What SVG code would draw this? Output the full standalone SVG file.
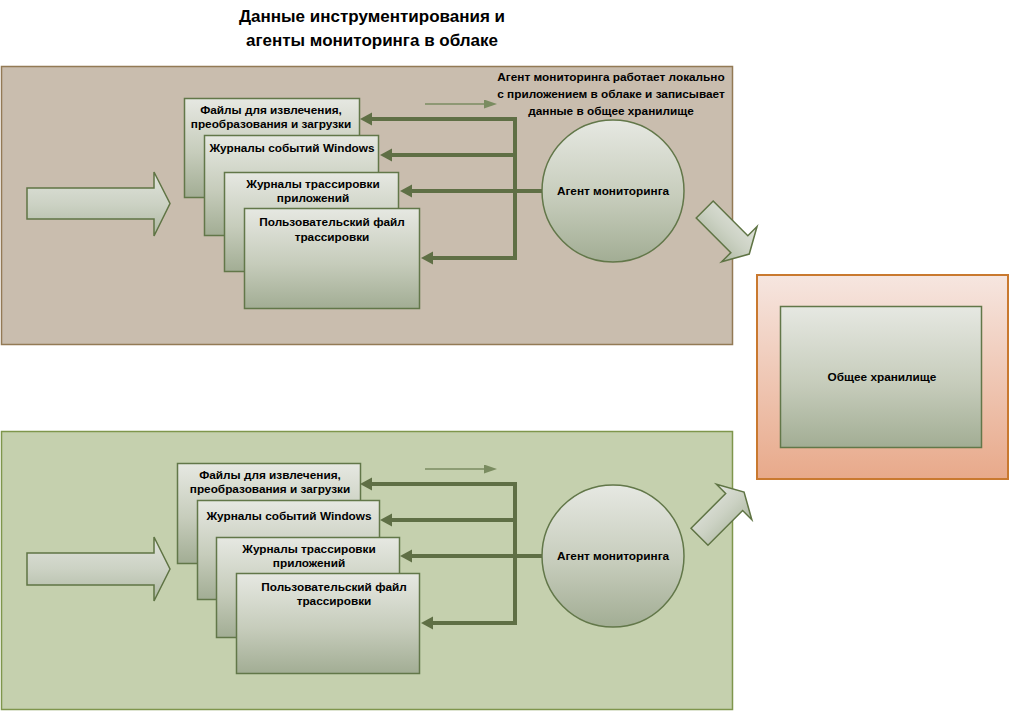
<svg xmlns="http://www.w3.org/2000/svg" width="1010" height="711" viewBox="0 0 1010 711">
  <defs>
    <linearGradient id="gShape" x1="0" y1="0" x2="0" y2="1">
      <stop offset="0" stop-color="#e6e8e2"/>
      <stop offset="0.55" stop-color="#c6ccbb"/>
      <stop offset="1" stop-color="#a2ad94"/>
    </linearGradient>
    <linearGradient id="gArrow" x1="0" y1="0" x2="0" y2="1">
      <stop offset="0" stop-color="#e0e3dc"/>
      <stop offset="0.5" stop-color="#ccd2c4"/>
      <stop offset="1" stop-color="#aeb8a2"/>
    </linearGradient>
    <linearGradient id="gStore" x1="0" y1="0" x2="0" y2="1">
      <stop offset="0" stop-color="#f6e6e0"/>
      <stop offset="1" stop-color="#e8a98a"/>
    </linearGradient>
    <marker id="head" markerUnits="userSpaceOnUse" markerWidth="13" markerHeight="14" refX="0" refY="6.5" orient="auto">
      <path d="M0,0 L12,6.5 L0,13 z" fill="#5f6f45"/>
    </marker>
    <marker id="headSmall" markerUnits="userSpaceOnUse" markerWidth="14" markerHeight="10" refX="0" refY="4.5" orient="auto">
      <path d="M0,0 L13,4.5 L0,9 z" fill="#7a8c60"/>
    </marker>
    <polygon id="bigArrow" points="0,-12 49,-12 49,-25 63,0 49,25 49,12 0,12"/>
  </defs>
  <style>
    .panelTop { fill: #c9bdae; stroke: #937a55; stroke-width: 1.5; }
    .panelBot { fill: #c5d0ae; stroke: #7f964c; stroke-width: 1.5; }
    .box { fill: url(#gShape); stroke: #627749; stroke-width: 1.5; }
    .agent { fill: url(#gShape); stroke: #627749; stroke-width: 1.5; }
    .flow { fill: url(#gArrow); stroke: #5f7444; stroke-width: 1.5; }
    .link { fill: none; stroke: #5f6f45; stroke-width: 4; marker-end: url(#head); }
    .hint { fill: none; stroke: #7a8c60; stroke-width: 1.5; marker-end: url(#headSmall); }
    text { font-family: "Liberation Sans", Arial, sans-serif; font-weight: bold; fill: #000; text-anchor: middle; }
    .lbl { font-size: 11.8px; }
    .title { font-size: 17px; }
  </style>

  <!-- heading -->
  <g id="title">
    <text class="title" x="372" y="22">Данные инструментирования и</text>
    <text class="title" x="372" y="46">агенты мониторинга в облаке</text>
  </g>

  <!-- cloud zones -->
  <g id="zone-top">
    <rect class="panelTop" x="1.5" y="66.5" width="731" height="278"/>
  </g>
  <g id="zone-bottom">
    <rect class="panelBot" x="1.5" y="431.5" width="731" height="278"/>
  </g>

  <!-- incoming flows -->
  <g id="flow-in-top">
    <polygon class="flow" points="27,188 154,188 154,172 170,203.5 154,236 154,219 27,219"/>
  </g>
  <g id="flow-in-bottom">
    <polygon class="flow" points="27,553 154,553 154,537 170,569 154,601 154,585 27,585"/>
  </g>

  <!-- top zone sources -->
  <g id="src-etl-top">
    <rect class="box" x="184.5" y="98.5" width="175" height="99"/>
    <text class="lbl" x="271" y="114">Файлы для извлечения,</text>
    <text class="lbl" x="271" y="128">преобразования и загрузки</text>
  </g>
  <g id="src-winlog-top">
    <rect class="box" x="204.5" y="135.5" width="174" height="100"/>
    <text class="lbl" x="292" y="152">Журналы событий Windows</text>
  </g>
  <g id="src-apptrace-top">
    <rect class="box" x="224.5" y="172.5" width="174" height="99"/>
    <text class="lbl" x="313" y="188">Журналы трассировки</text>
    <text class="lbl" x="313" y="202">приложений</text>
  </g>
  <g id="src-custom-top">
    <rect class="box" x="244.5" y="208.5" width="175" height="100"/>
    <text class="lbl" x="332" y="226">Пользовательский файл</text>
    <text class="lbl" x="332" y="241">трассировки</text>
  </g>

  <!-- bottom zone sources -->
  <g id="src-etl-bottom">
    <rect class="box" x="177.5" y="463.5" width="183" height="100"/>
    <text class="lbl" x="270" y="479">Файлы для извлечения,</text>
    <text class="lbl" x="270" y="493">преобразования и загрузки</text>
  </g>
  <g id="src-winlog-bottom">
    <rect class="box" x="197.5" y="500.5" width="182" height="99"/>
    <text class="lbl" x="289" y="520">Журналы событий Windows</text>
  </g>
  <g id="src-apptrace-bottom">
    <rect class="box" x="216.5" y="537.5" width="183" height="100"/>
    <text class="lbl" x="309" y="553">Журналы трассировки</text>
    <text class="lbl" x="309" y="567">приложений</text>
  </g>
  <g id="src-custom-bottom">
    <rect class="box" x="236.5" y="573.5" width="183" height="100"/>
    <text class="lbl" x="334" y="591">Пользовательский файл</text>
    <text class="lbl" x="334" y="605">трассировки</text>
  </g>

  <!-- monitoring agents -->
  <g id="agent-top">
    <circle class="agent" cx="613" cy="191" r="71"/>
    <text class="lbl" x="613" y="195">Агент мониторинга</text>
  </g>
  <g id="agent-bottom">
    <circle class="agent" cx="613" cy="556" r="71"/>
    <text class="lbl" x="613" y="560">Агент мониторинга</text>
  </g>

  <g id="note-top">
    <text class="lbl" x="611" y="81">Агент мониторинга работает локально</text>
    <text class="lbl" x="611" y="98">с приложением в облаке и записывает</text>
    <text class="lbl" x="611" y="115">данные в общее хранилище</text>
  </g>

  <!-- shared storage -->
  <g id="storage">
    <rect x="757" y="275" width="251" height="204" fill="url(#gStore)" stroke="#c9792f" stroke-width="2"/>
    <rect class="box" x="780.5" y="306.5" width="201" height="141"/>
    <text class="lbl" x="882" y="381">Общее хранилище</text>
  </g>

  <!-- outgoing flows to storage -->
  <g id="flow-out-top">
    <use href="#bigArrow" class="flow" transform="translate(704.7,209.5) rotate(45)"/>
  </g>
  <g id="flow-out-bottom">
    <use href="#bigArrow" class="flow" transform="translate(699.5,536.7) rotate(-45)"/>
  </g>

  <!-- agent to source links -->
  <g id="connectors">
    <path class="link" d="M542,191 H515 V119 H372"/>
    <path class="link" d="M542,191 H515 V155 H392"/>
    <path class="link" d="M542,191 H412"/>
    <path class="link" d="M542,191 H515 V258 H433"/>
    <path class="link" d="M542,556 H515 V484 H372"/>
    <path class="link" d="M542,556 H515 V520 H392"/>
    <path class="link" d="M542,556 H412"/>
    <path class="link" d="M542,556 H515 V623 H433"/>
    <path class="hint" d="M425,104 H484"/>
    <path class="hint" d="M425,469 H484"/>
  </g>
</svg>
